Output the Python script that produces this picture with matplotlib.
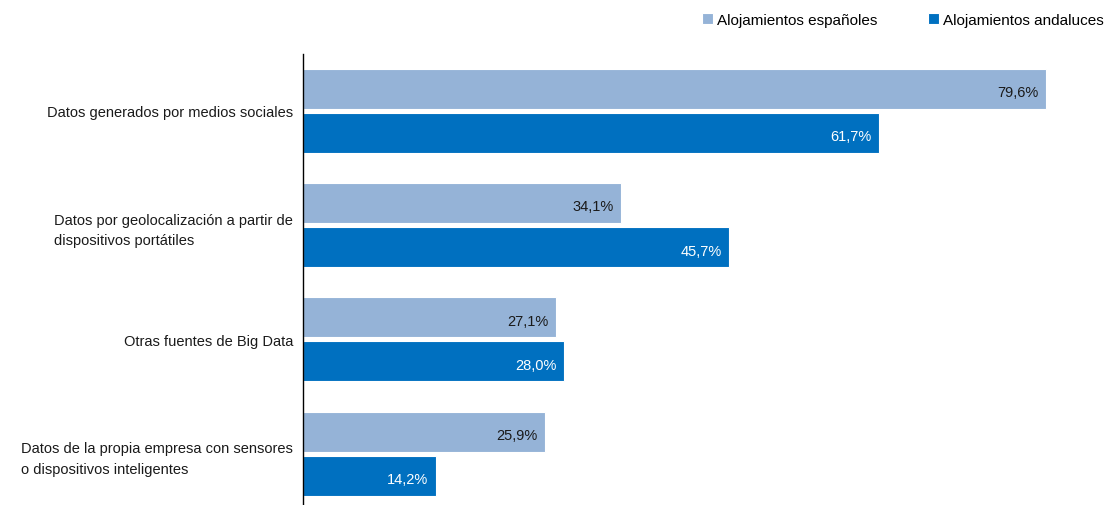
import numpy as np
import matplotlib.pyplot as plt

plt.rcParams['font.family'] = ['Liberation Sans', 'DejaVu Sans']

categorias = ['Datos generados por medios sociales',
              'Datos por geolocalización a partir de\ndispositivos portátiles',
              'Otras fuentes de Big Data',
              'Datos de la propia empresa con sensores\no dispositivos inteligentes']
espanoles = [79.6, 34.1, 27.1, 25.9]
andaluces = [61.7, 45.7, 28.0, 14.2]
series = ['Alojamientos españoles', 'Alojamientos andaluces']
colores = ['#95B3D7', '#0070C0']

fig = plt.figure(figsize=(11.13, 5.06), dpi=100)
ax = fig.add_axes([303 / 1113, 1 - 505 / 506, 1 - 303 / 1113, 450 / 506])

y = np.arange(len(categorias))
h = 0.35
off = 0.193
b1 = ax.barh(y - off, espanoles, height=h, color=colores[0], edgecolor='white', linewidth=0.8, label=series[0])
b2 = ax.barh(y + off, andaluces, height=h, color=colores[1], edgecolor='white', linewidth=0.8, label=series[1])

for bars, vals, c in [(b1, espanoles, '#1a1a1a'), (b2, andaluces, 'white')]:
    for b, v in zip(bars, vals):
        ax.text(v - 0.8, b.get_y() + b.get_height() / 2 + 0.03, f'{v:.1f}%'.replace('.', ','),
                ha='right', va='center', fontsize=10.5, color=c)

ax.set_xlim(0, 86.8)
ax.set_ylim(3.44, -0.496)
ax.set_yticks(y)
ax.set_yticklabels(categorias, fontsize=10.5, color='#1a1a1a')
for t in ax.get_yticklabels():
    t.set_multialignment('left')
    t.set_linespacing(1.6)
ax.tick_params(axis='y', length=0, pad=7)
ax.set_xticks([])
for s in ['top', 'right', 'bottom']:
    ax.spines[s].set_visible(False)
ax.spines['left'].set_color('black')
ax.spines['left'].set_linewidth(1)

fig.legend(handles=[b1, b2], labels=series, loc='upper right', bbox_to_anchor=(1.0, 0.99),
           ncol=2, frameon=False, fontsize=11, handlelength=0.75, handleheight=0.75,
           handletextpad=0.25, columnspacing=3.3, borderaxespad=0.2)

fig.savefig('out.png', dpi=100)
